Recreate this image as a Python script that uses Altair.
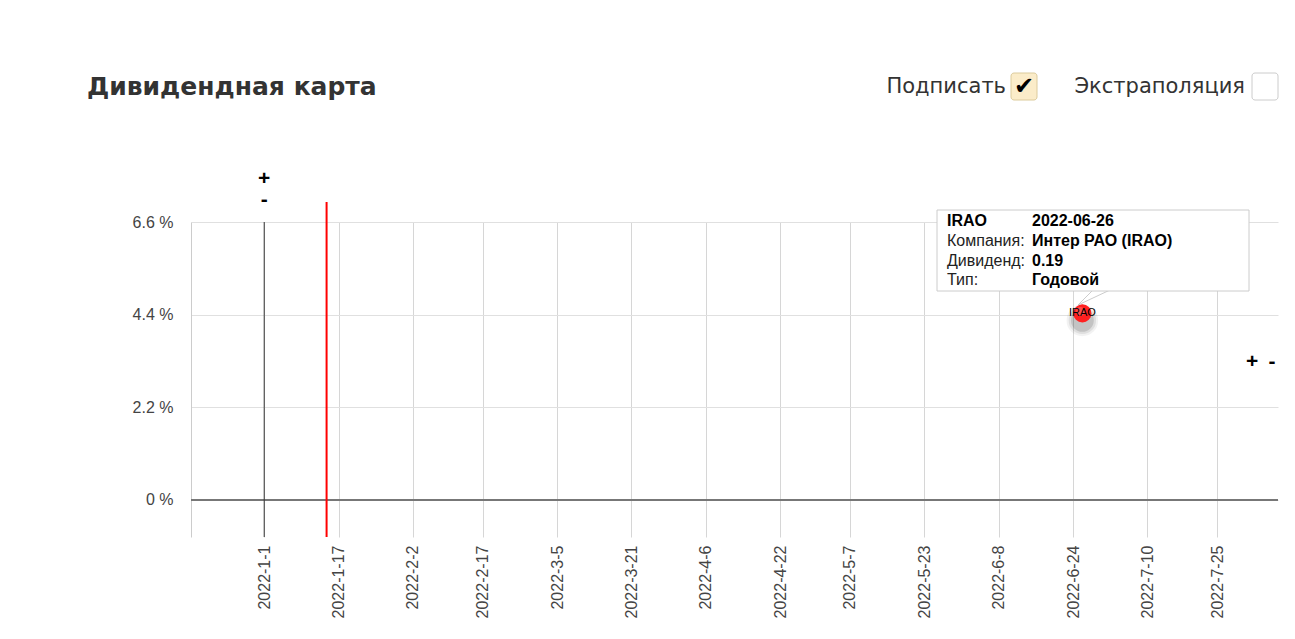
import altair as alt
import pandas as pd

# ---------------- data ----------------
tickers = ["IRAO"]
pay_dates = ["2022-06-26"]
yields_pct = [4.43]
companies = ["Интер РАО (IRAO)"]
dividends = [0.19]
div_types = ["Годовой"]

x_tick_labels = ["2022-1-1", "2022-1-17", "2022-2-2", "2022-2-17", "2022-3-5",
                 "2022-3-21", "2022-4-6", "2022-4-22", "2022-5-7", "2022-5-23",
                 "2022-6-8", "2022-6-24", "2022-7-10", "2022-7-25"]
y_ticks = [0, 2.2, 4.4, 6.6]
year_start = ["2022-01-01"]
today = ["2022-01-14T10:00:00"]
x_domain = [(2021, 12, 16, 6), (2022, 8, 7, 2)]
y_domain = [-0.88, 6.6]

title_text = "Дивидендная карта"
opt_labels = ["Подписать", "Экстраполяция"]
tip_labels = ["", "Компания:", "Дивиденд:", "Тип:"]

# ---------------- helpers ----------------
def dt(y, m, d, h=0):
    return alt.DateTime(year=y, month=m, date=d, hours=h)

x_vals = []
for lab in x_tick_labels:
    y, m, d = [int(v) for v in lab.split("-")]
    x_vals.append(dt(y, m, d))

W, H = 1087, 315
AX_FONT = "Liberation Sans"
HEAD_FONT = "DejaVu Sans"

df = pd.DataFrame({
    "ticker": tickers,
    "date": pd.to_datetime(pay_dates),
    "yield": yields_pct,
    "company": companies,
    "dividend": dividends,
    "type": div_types,
})

x_enc = alt.X("date:T",
              scale=alt.Scale(domain=[dt(*x_domain[0]), dt(*x_domain[1])]),
              axis=alt.Axis(values=x_vals, format="%Y-%-m-%-d", labelAngle=270,
                            labelAlign="right", labelBaseline="middle",
                            labelFont=AX_FONT, labelFontSize=16, labelColor="#444",
                            labelPadding=8, labelOverlap=False, labelFlush=False,
                            grid=True, gridColor="#d6d6d6", ticks=False,
                            domain=False, title=None))
y_enc = alt.Y("yield:Q",
              scale=alt.Scale(domain=y_domain, nice=False, zero=False),
              axis=alt.Axis(values=y_ticks, labelExpr="datum.value + ' %'",
                            labelFont=AX_FONT, labelFontSize=16, labelColor="#444",
                            labelPadding=18, grid=True, gridColor="#e0e0e0",
                            ticks=False, domain=True, domainColor="#cccccc",
                            title=None))

one = pd.DataFrame({"a": [0]})

layers = []

# zero line
layers.append(alt.Chart(pd.DataFrame({"yield": [0.0]}))
              .mark_rule(color="#777777", strokeWidth=2)
              .encode(y=alt.Y("yield:Q")))

# year start line
layers.append(alt.Chart(pd.DataFrame({"date": pd.to_datetime(year_start)}))
              .mark_rule(color="#333333", strokeWidth=1)
              .encode(x=alt.X("date:T")))

# today line
layers.append(alt.Chart(pd.DataFrame({"date": pd.to_datetime(today)}))
              .mark_rule(color="#ff0000", strokeWidth=2)
              .encode(x=alt.X("date:T"), y=alt.value(-20), y2=alt.value(H)))

# +/- above the year line
for sym, yy in [("+", -43), ("-", -22)]:
    layers.append(alt.Chart(pd.DataFrame({"date": pd.to_datetime(year_start)}))
                  .mark_text(text=sym, font="Liberation Sans", fontSize=21,
                             fontWeight="bold", color="#000", baseline="middle")
                  .encode(x=alt.X("date:T"), y=alt.value(yy)))

# +/- at right side
for sym, xx in [("+", 1061), ("-", 1081)]:
    layers.append(alt.Chart(one)
                  .mark_text(text=sym, font="Liberation Sans", fontSize=21,
                             fontWeight="bold", color="#000", baseline="middle")
                  .encode(x=alt.value(xx), y=alt.value(140)))

# point shadow
for size, op in [(1000, 0.05), (750, 0.08), (520, 0.12)]:
    layers.append(alt.Chart(df)
                  .mark_circle(color="#000", opacity=op, size=size, yOffset=7)
                  .encode(x=x_enc, y=y_enc))

# point
layers.append(alt.Chart(df)
              .mark_circle(color="#ff2020", opacity=1, size=330)
              .encode(x=x_enc, y=y_enc))
layers.append(alt.Chart(df)
              .mark_circle(color="#ff6a6a", opacity=0.6, size=80, xOffset=-2, yOffset=-2)
              .encode(x=x_enc, y=y_enc))

# point label
layers.append(alt.Chart(df)
              .mark_text(font=AX_FONT, fontSize=11, color="#000", baseline="middle")
              .encode(x=x_enc, y=y_enc, text="ticker:N"))

# tooltip callout
for x2v in [902, 919]:
    layers.append(alt.Chart(one)
                  .mark_rule(color="#cccccc", strokeWidth=1)
                  .encode(x=alt.value(887), y=alt.value(83), x2=alt.value(x2v), y2=alt.value(68)))

# tooltip box
layers.append(alt.Chart(one)
              .mark_rect(fill="#ffffff", stroke="#cccccc", strokeWidth=1)
              .encode(x=alt.value(746), x2=alt.value(1058), y=alt.value(-12), y2=alt.value(69)))

row = df.iloc[0]
tip_values = [row["date"].strftime("%Y-%m-%d"), row["company"],
              f"{row['dividend']:.2f}", row["type"]]
tip_first = [row["ticker"]] + tip_labels[1:]
for i in range(4):
    base_y = 4 + i * 19.8
    layers.append(alt.Chart(one)
                  .mark_text(text=tip_first[i], font=AX_FONT, fontSize=16,
                             fontWeight="bold" if i == 0 else "normal",
                             color="#000" if i == 0 else "#222",
                             align="left", baseline="alphabetic")
                  .encode(x=alt.value(756), y=alt.value(base_y)))
    layers.append(alt.Chart(one)
                  .mark_text(text=tip_values[i], font=AX_FONT, fontSize=16,
                             fontWeight="bold", color="#000",
                             align="left", baseline="alphabetic")
                  .encode(x=alt.value(841), y=alt.value(base_y)))

# title
layers.append(alt.Chart(one)
              .mark_text(text=title_text, font=HEAD_FONT, fontSize=25,
                         fontWeight="bold", color="#333333", align="left",
                         baseline="alphabetic")
              .encode(x=alt.value(-104), y=alt.value(-127)))

# options with checkboxes
opt_right = [815, 1054]
box_left = [820, 1061]
for i, lab in enumerate(opt_labels):
    layers.append(alt.Chart(one)
                  .mark_text(text=lab, font=HEAD_FONT, fontSize=21,
                             color="#333333", align="right", baseline="alphabetic")
                  .encode(x=alt.value(opt_right[i]), y=alt.value(-129)))
    checked = i == 0
    layers.append(alt.Chart(one)
                  .mark_rect(fill="#fbecc9" if checked else "#ffffff",
                             stroke="#dccb9c" if checked else "#cccccc",
                             strokeWidth=1, cornerRadius=3)
                  .encode(x=alt.value(box_left[i]), x2=alt.value(box_left[i] + 26),
                          y=alt.value(-149), y2=alt.value(-122)))
    if checked:
        layers.append(alt.Chart(one)
                      .mark_text(text="✔", font="DejaVu Sans", fontSize=24,
                                 color="#000", align="center", baseline="middle")
                      .encode(x=alt.value(box_left[i] + 13), y=alt.value(-135)))

base = alt.Chart(df).mark_point(opacity=0).encode(x=x_enc, y=y_enc)

chart = alt.layer(base, *layers).properties(
    width=W, height=H,
    autosize=alt.AutoSizeParams(type="none"),
    padding={"left": 183, "top": 214, "right": 8, "bottom": 92},
    background="#ffffff",
).configure_view(stroke=None)

chart.save("out.html", embed_options={"renderer": "svg", "actions": False})
